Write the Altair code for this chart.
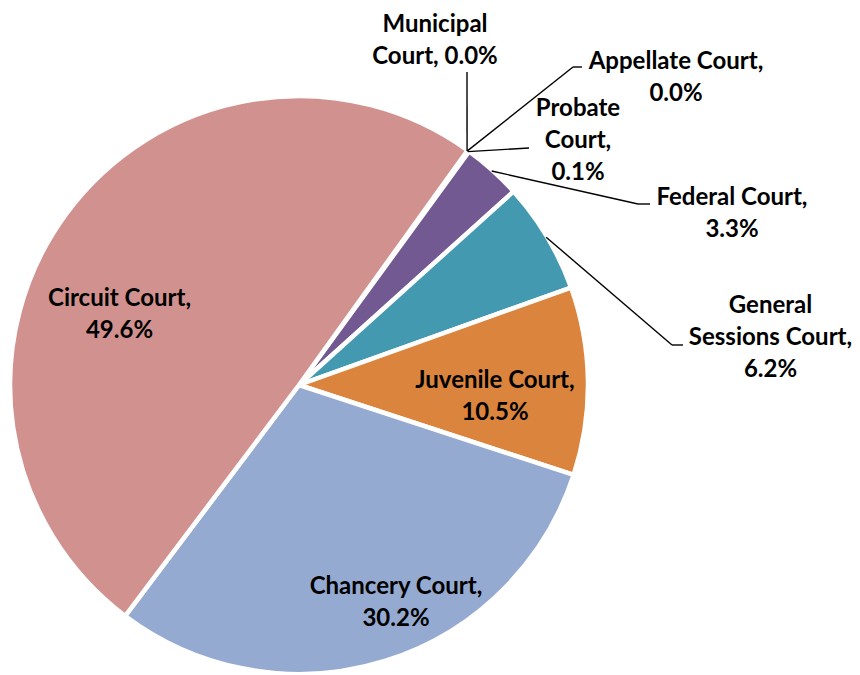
import math
import altair as alt
import pandas as pd

# ---- data ----
categories = ["Municipal Court", "Appellate Court", "Probate Court", "Federal Court",
              "General Sessions Court", "Juvenile Court", "Chancery Court", "Circuit Court"]
values = [0.0, 0.0, 0.1, 3.3, 6.2, 10.5, 30.2, 49.6]
label_templates = ["Municipal\nCourt, {}", "Appellate Court,\n{}", "Probate\nCourt,\n{}",
                   "Federal Court,\n{}", "General\nSessions Court,\n{}", "Juvenile Court,\n{}",
                   "Chancery Court,\n{}", "Circuit Court,\n{}"]

# ---- styles / layout ----
colors = ["#4F81BD", "#C0504D", "#9BBB59", "#725992", "#4299B0", "#DB843D", "#95AAD0", "#D1928F"]
W, H = 860, 675
CX, CY = 299, 385          # pie centre (px)
R = 289                    # outer radius incl. white border
R_LEAD = 288               # where leader lines start
T0 = math.radians(35.7)    # angle of first slice
label_x = [435, 676, 578, 732, 770.5, 495, 396, 119.5]
label_y = [24.5, 61.5, 108.5, 197.5, 306, 381, 587, 298.5]   # first-line centres
elbow_x = [467, 573, 529, 638, 672, None, None, None]
elbow_y = [72, 67, 148, 204, 345, None, None, None]
end_x = [467, 582, 529, 650, 683, None, None, None]
end_y = [72, 67, 148, 204, 345, None, None, None]

df = pd.DataFrame({
    "category": categories,
    "value": values,
    "idx": list(range(len(categories))),
    "label": [t.format(f"{v:.1f}%") for t, v in zip(label_templates, values)],
    "lx": label_x, "ly": label_y,
    "ex": elbow_x, "ey": elbow_y,
    "fx": end_x, "fy": end_y,
})

xs = alt.Scale(domain=[0, W], nice=False, zero=False)
ys = alt.Scale(domain=[0, H], nice=False, zero=False, reverse=True)

base = alt.Chart(df)

pie = base.mark_arc(outerRadius=R, stroke="white", strokeWidth=4.5).encode(
    theta=alt.Theta("value:Q", stack=True, scale=alt.Scale(range=[T0, T0 + 2 * math.pi])),
    color=alt.Color("category:N", scale=alt.Scale(domain=categories, range=colors), legend=None),
    order=alt.Order("idx:Q", sort="ascending"),
    x=alt.value(CX),
    y=alt.value(CY),
)

lead = base.transform_window(
    cum="sum(value)", sort=[alt.SortField("idx", order="ascending")], frame=[None, 0]
).transform_joinaggregate(
    total="sum(value)"
).transform_calculate(
    mid=f"{T0} + 2*PI*(datum.cum - datum.value/2)/datum.total",
).transform_calculate(
    sx=f"{CX} + {R_LEAD}*sin(datum.mid)",
    sy=f"{CY} - {R_LEAD}*cos(datum.mid)",
).transform_filter("datum.ex != null")

lead1 = lead.mark_rule(color="black", strokeWidth=1.4).encode(
    x=alt.X("sx:Q", scale=xs, axis=None),
    y=alt.Y("sy:Q", scale=ys, axis=None),
    x2="ex:Q",
    y2="ey:Q",
)
lead2 = lead.mark_rule(color="black", strokeWidth=1.4).encode(
    x=alt.X("ex:Q", scale=xs, axis=None),
    y=alt.Y("ey:Q", scale=ys, axis=None),
    x2="fx:Q",
    y2="fy:Q",
)

labels = base.mark_text(
    font="Lato", fontWeight="bold", fontSize=24, lineHeight=32,
    lineBreak="\n", align="center", baseline="middle", color="black",
).encode(
    x=alt.X("lx:Q", scale=xs, axis=None),
    y=alt.Y("ly:Q", scale=ys, axis=None),
    text="label:N",
)

chart = alt.layer(pie, lead1, lead2, labels).properties(
    width=W, height=H, padding=0, autosize="none", background="white"
).configure_view(strokeWidth=0)

chart.save("out.html", embed_options={"renderer": "svg", "actions": False})
